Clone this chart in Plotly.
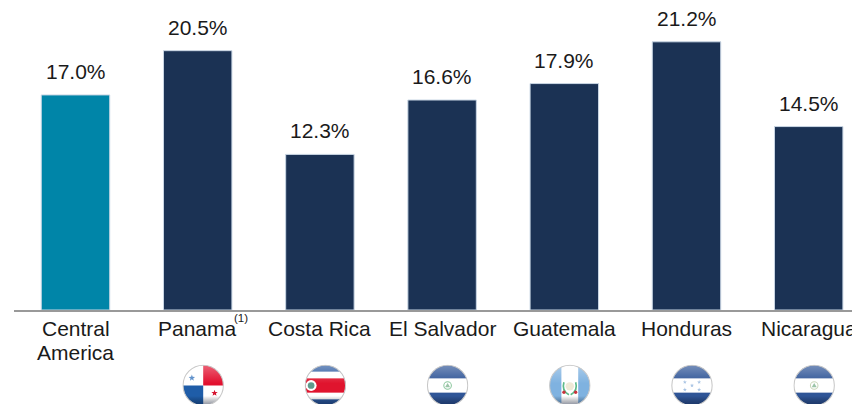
import base64
import math
import plotly.graph_objects as go

categories = ["Central<br>America", "Panama", "Costa Rica", "El Salvador", "Guatemala", "Honduras", "Nicaragua"]
values = [17.0, 20.5, 12.3, 16.6, 17.9, 21.2, 14.5]
labels = ["17.0%", "20.5%", "12.3%", "16.6%", "17.9%", "21.2%", "14.5%"]
bar_colors = ["#0085A8", "#1B3254", "#1B3254", "#1B3254", "#1B3254", "#1B3254", "#1B3254"]
positions = list(range(len(categories)))

W, H = 852, 404
SP = 122.2
LEFT = 14
BASE = 310
PX_PER_UNIT = 12.65
FONT = "Liberation Sans, Arial, sans-serif"
FS = 21
TEXT = "#1a1a1a"


def star(cx, cy, r, fill):
    pts = []
    for i in range(10):
        a = -math.pi / 2 + i * math.pi / 5
        rr = r if i % 2 == 0 else r * 0.42
        pts.append(f"{cx + rr * math.cos(a):.2f},{cy + rr * math.sin(a):.2f}")
    return f'<polygon points="{" ".join(pts)}" fill="{fill}"/>'


def h_stripes(top, mid, emblem=""):
    return (f'<rect width="100" height="100" fill="{mid}"/>'
            f'<rect width="100" height="33" fill="{top}"/>'
            f'<rect y="67" width="100" height="33" fill="{top}"/>' + emblem)


def emblem_circle(color):
    return (f'<circle cx="50" cy="50" r="9" fill="none" stroke="{color}" stroke-width="2.5"/>'
            f'<polygon points="44,54 50,44 56,54" fill="#9cc4a8"/>')


panama = ('<rect width="100" height="100" fill="#ffffff"/>'
          '<rect x="50" width="50" height="50" fill="#E2102F"/>'
          '<rect y="50" width="50" height="50" fill="#1F5DA8"/>'
          + star(23, 32, 8, "#4F86C6") + star(77, 68, 8, "#D6142F"))
costa_rica = ('<rect width="100" height="100" fill="#2C5AA0"/>'
              '<rect y="17" width="100" height="66" fill="#ffffff"/>'
              '<rect y="33" width="100" height="34" fill="#E0142E"/>'
              '<circle cx="16" cy="50" r="13" fill="#ffffff"/>'
              '<circle cx="16" cy="50" r="8" fill="#5d9a8c"/>')
el_salvador = h_stripes("#2F5597", "#ffffff", emblem_circle("#8cc79e"))
guatemala = ('<rect width="100" height="100" fill="#ffffff"/>'
             '<rect width="30" height="100" fill="#7FB2E0"/>'
             '<rect x="70" width="30" height="100" fill="#7FB2E0"/>'
             '<path d="M36 42 Q30 62 48 72 M64 42 Q70 62 52 72" fill="none" stroke="#5DBB8A" stroke-width="4"/>'
             '<circle cx="50" cy="52" r="10" fill="#efe9d6"/>'
             '<circle cx="36" cy="66" r="4" fill="#C8323C"/><circle cx="64" cy="66" r="4" fill="#C8323C"/>')
honduras = h_stripes("#2F5597", "#ffffff",
                     "".join(star(x, y, 5, "#A9C4E4") for x, y in
                             [(33, 42), (67, 42), (50, 50), (33, 60), (67, 60)]))
nicaragua = h_stripes("#2F5597", "#ffffff", emblem_circle("#c9d6b8"))
flags = [None, panama, costa_rica, el_salvador, guatemala, honduras, nicaragua]


def flag_uri(body):
    svg = ('<svg xmlns="http://www.w3.org/2000/svg" width="100" height="100" viewBox="0 0 100 100">'
           '<defs><clipPath id="c"><circle cx="50" cy="50" r="48"/></clipPath>'
           '<linearGradient id="g" x1="0" y1="0" x2="0" y2="1">'
           '<stop offset="0" stop-color="#ffffff" stop-opacity="0.35"/>'
           '<stop offset="0.45" stop-color="#ffffff" stop-opacity="0"/>'
           '<stop offset="0.75" stop-color="#000000" stop-opacity="0"/>'
           '<stop offset="1" stop-color="#0a1a40" stop-opacity="0.55"/></linearGradient></defs>'
           f'<g clip-path="url(#c)">{body}<rect width="100" height="100" fill="url(#g)"/></g>'
           '<circle cx="50" cy="50" r="48" fill="none" stroke="#c8c8c8" stroke-width="2.5"/></svg>')
    return "data:image/svg+xml;base64," + base64.b64encode(svg.encode()).decode()


x0 = -(75.5 - LEFT) / SP
x1 = x0 + (W - LEFT) / SP

fig = go.Figure(go.Bar(
    x=positions, y=values, width=0.56,
    marker=dict(color=bar_colors, line=dict(color="#C9D6E4", width=1)),
    hoverinfo="skip",
))

for p, v, t in zip(positions, values, labels):
    fig.add_annotation(x=p, y=v, text=t, showarrow=False, yanchor="bottom", yshift=10,
                       font=dict(family=FONT, size=FS, color=TEXT))

# Category labels as annotations: the last one runs past the page edge and an
# axis tick label would be dropped there. One annotation per line for line spacing.
for p, cat in zip(positions, categories):
    for n, line in enumerate(cat.split("<br>")):
        fig.add_annotation(x=p, y=0, text=line, showarrow=False, xanchor="center", yanchor="middle",
                           yshift=-(18 + 24 * n), font=dict(family=FONT, size=FS, color=TEXT))

fig.add_annotation(x=1, xshift=43, y=0, yshift=-8, text="(1)", showarrow=False,
                   font=dict(family=FONT, size=11.5, color=TEXT))

images = []
for p, body in zip(positions, flags):
    if body is None:
        continue
    images.append(dict(source=flag_uri(body), xref="x", yref="paper",
                       x=p + 5.5 / SP, y=-(385.5 - BASE) / BASE,
                       sizex=42 / SP, sizey=42 / BASE,
                       xanchor="center", yanchor="middle", layer="above"))

fig.update_layout(
    width=W, height=H,
    margin=dict(l=LEFT, r=0, t=0, b=H - BASE, pad=0),
    paper_bgcolor="white", plot_bgcolor="white",
    showlegend=False, images=images,
    font=dict(family=FONT, size=FS, color=TEXT),
    xaxis=dict(range=[x0, x1], tickmode="array", tickvals=positions, showticklabels=False,
               showgrid=False, zeroline=False, showline=True, linecolor="#999999", linewidth=2,
               ticks=""),
    yaxis=dict(range=[0, BASE / PX_PER_UNIT], visible=False, showgrid=False, zeroline=False),
)
fig.write_html("out.html", config=dict(displayModeBar=False),
               post_script="document.body.style.margin='0';document.documentElement.style.overflow='hidden';")
